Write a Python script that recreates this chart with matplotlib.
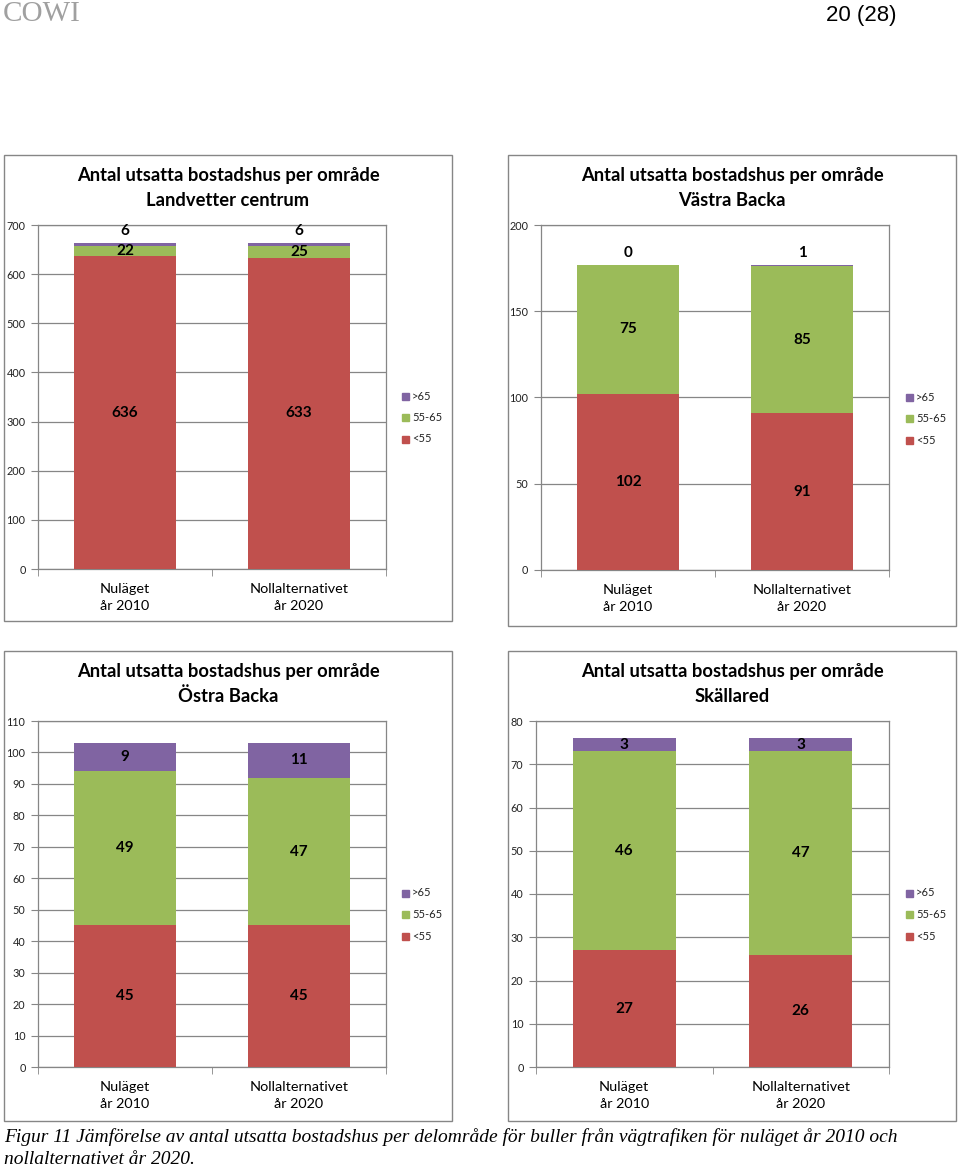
import matplotlib
matplotlib.use("Agg")
import matplotlib.pyplot as plt
from matplotlib.patches import Rectangle
import numpy as np

# data
categories = ["Nuläget\når 2010", "Nollalternativet\når 2020"]
series_names = ["<55", "55-65", ">65"]
series_colors = ["#C0504D", "#9BBB59", "#8064A2"]

landvetter_lt55 = [636, 633]
landvetter_55_65 = [22, 25]
landvetter_gt65 = [6, 6]

vastra_lt55 = [102, 91]
vastra_55_65 = [75, 85]
vastra_gt65 = [0, 1]

ostra_lt55 = [45, 45]
ostra_55_65 = [49, 47]
ostra_gt65 = [9, 11]

skallared_lt55 = [27, 26]
skallared_55_65 = [46, 47]
skallared_gt65 = [3, 3]

area_names = ["Landvetter centrum", "Västra Backa", "Östra Backa", "Skällared"]
y_max = [700, 200, 110, 80]
y_step = [100, 50, 10, 10]

W, H = 960, 1167
GRAY = "#868686"
FONT = "Lato"


def px_rect(x0, y0, x1, y1):
	return [x0 / W, 1 - y1 / H, (x1 - x0) / W, (y1 - y0) / H]


fig = plt.figure(figsize=(W / 100, H / 100), dpi=100)
fig.patch.set_facecolor("white")

# header
fig.text(3 / W, 1 - 21 / H, "COWI", family="Liberation Serif", fontsize=21,
		 color="#a0a0a0", va="baseline", ha="left")
fig.text(897 / W, 1 - 15 / H, "20 (28)", family="Liberation Sans", fontsize=16,
		 color="black", va="center", ha="right")

# panel frames and plot areas, in pixels
frames = [(4, 155, 452, 621), (508, 155, 956, 626), (4, 651, 452, 1121), (508, 651, 956, 1121)]
plots = [(38, 225, 386, 569), (541, 225, 889, 570), (38, 721, 386, 1067), (536, 721, 889, 1067)]
legend_xy = [(404, 396), (908, 397), (404, 893), (908, 893)]

data = [
	(landvetter_lt55, landvetter_55_65, landvetter_gt65),
	(vastra_lt55, vastra_55_65, vastra_gt65),
	(ostra_lt55, ostra_55_65, ostra_gt65),
	(skallared_lt55, skallared_55_65, skallared_gt65),
]

for i, name in enumerate(area_names):
	fx0, fy0, fx1, fy1 = frames[i]
	fig.patches.append(Rectangle((fx0 / W, 1 - fy1 / H), (fx1 - fx0) / W, (fy1 - fy0) / H,
								 transform=fig.transFigure, fill=False, edgecolor=GRAY, lw=1.0))
	cx = (fx0 + fx1) / 2
	fig.text(cx / W, 1 - (fy0 + 21) / H, "Antal utsatta bostadshus per område",
			 family=FONT, fontweight="bold", fontsize=13.25, ha="center", va="center")
	fig.text(cx / W, 1 - (fy0 + 45) / H, name,
			 family=FONT, fontweight="bold", fontsize=13.25, ha="center", va="center")

	ax = fig.add_axes(px_rect(*plots[i]))
	x = np.arange(len(categories))
	bottom = np.zeros(len(categories))
	for k, values in enumerate(data[i]):
		vals = np.array(values, dtype=float)
		ax.bar(x, vals, 0.586, bottom=bottom, color=series_colors[k], zorder=3)
		for j in range(len(categories)):
			if k == 2 and vals[j] / y_max[i] < 0.03:
				# tiny top segments: label sits just above the stack
				ax.annotate(f"{values[j]:d}", (x[j], bottom[j] + vals[j]), xytext=(0, 12),
							textcoords="offset pixels", ha="center", va="center",
							family=FONT, fontweight="bold", fontsize=11)
			else:
				ax.text(x[j], bottom[j] + vals[j] / 2, f"{values[j]:d}", ha="center", va="center",
						family=FONT, fontweight="bold", fontsize=11, zorder=4)
		bottom += vals

	ax.set_xlim(-0.5, len(categories) - 0.5)
	ax.set_ylim(0, y_max[i])
	ax.set_yticks(np.arange(0, y_max[i] + 1, y_step[i]))
	ax.yaxis.grid(True, color=GRAY, lw=0.9, zorder=0)
	ax.set_axisbelow(True)
	ax.set_xticks(x)
	ax.set_xticklabels(categories, family=FONT, fontsize=10.4, linespacing=1.5)
	ax.set_xticks(np.arange(-0.5, len(categories), 1.0), minor=True)
	ax.tick_params(axis="x", which="major", length=0, pad=10)
	ax.tick_params(axis="x", which="minor", length=5, color=GRAY, direction="out")
	ax.tick_params(axis="y", length=5, color=GRAY, direction="out", labelsize=7.8, pad=4)
	for lab in ax.get_yticklabels():
		lab.set_family(FONT)
		lab.set_color("#222222")
	for sp in ax.spines.values():
		sp.set_color(GRAY)
		sp.set_linewidth(0.9)

	# legend, top entry first
	lx, ly = legend_xy[i]
	for k in range(3):
		yy = ly + (2 - k) * 21.5
		fig.patches.append(Rectangle(((lx - 2) / W, 1 - (yy + 3.5) / H), 7 / W, 7 / H,
									 transform=fig.transFigure, color=series_colors[k]))
		fig.text((lx + 8) / W, 1 - yy / H, series_names[k], family=FONT, fontsize=8,
				 ha="left", va="center", color="#222222")

# caption
fig.text(4 / W, 1 - 1137 / H, "Figur 11 Jämförelse av antal utsatta bostadshus per delområde för buller från vägtrafiken för nuläget år 2010 och",
		 family="Liberation Serif", style="italic", fontsize=14, ha="left", va="center")
fig.text(4 / W, 1 - 1159 / H, "nollalternativet år 2020.",
		 family="Liberation Serif", style="italic", fontsize=14, ha="left", va="center")

fig.savefig("out.png", dpi=100)
